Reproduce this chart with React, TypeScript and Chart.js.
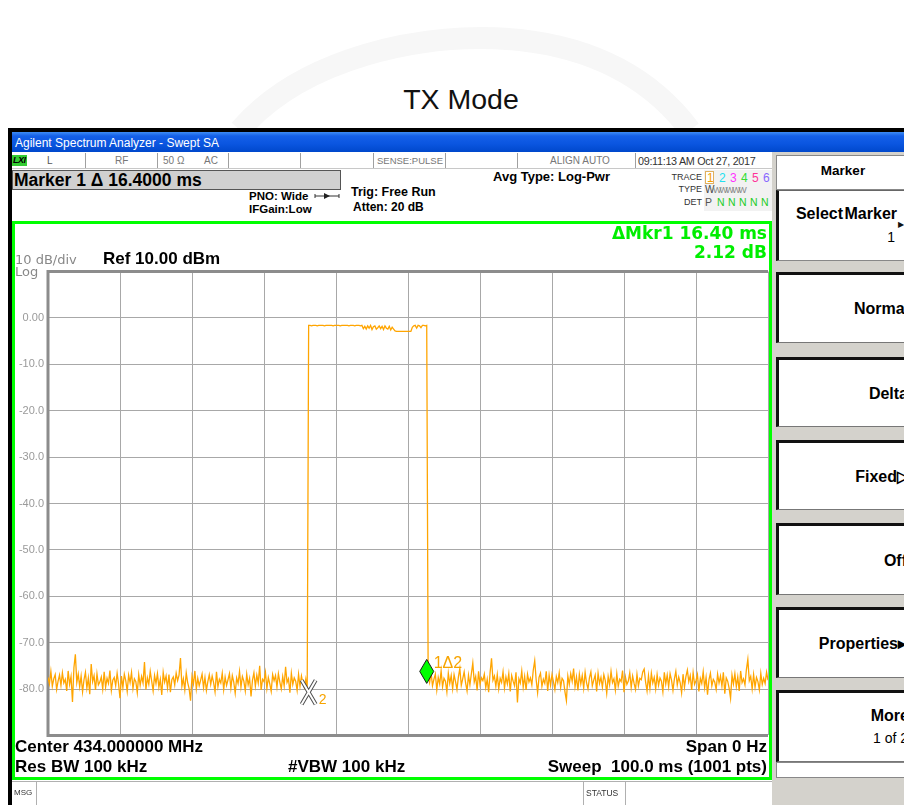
import React, { useEffect, useRef } from 'react';
import { Chart, registerables } from 'chart.js';

Chart.register(...registerables);

// ---------------- data ----------------
const sweepStartMs = 0;
const sweepStepMs = 0.2; // 501 samples over 100 ms
const timeRangeMs = [0, 100];
const timeStepMs = 10;
const levelRangeDbm = [-90, 10];
const levelStepDbm = 10;
const hiddenLevelTicks = [10, -90];

const noiseBeforeDbm = [
  -77.5, -78.9, -76.2, -79.4, -77.8, -76.9, -80.1, -78.3, -77.0, -79.2,
  -76.5, -78.7, -77.9, -80.4, -76.1, -79.0, -77.3, -82.8, -75.4, -72.5,
  -78.6, -76.8, -79.5, -77.2, -80.6, -78.0, -76.4, -79.8, -77.6, -81.1,
  -74.6, -78.4, -77.1, -80.2, -76.7, -79.1, -78.5, -77.4, -80.0, -76.3,
  -79.6, -77.7, -78.8, -76.0, -80.3, -78.1, -77.5, -79.3, -76.6, -78.9,
  -82.0, -77.2, -79.7, -76.8, -78.2, -80.5, -77.0, -78.6, -76.4, -79.9,
  -77.8, -78.4, -80.8, -76.9, -79.2, -77.3, -78.7, -74.2, -80.1, -77.6,
  -79.0, -76.2, -78.3, -80.4, -77.1, -78.8, -76.7, -79.6, -77.9, -81.3,
  -76.4, -78.5, -77.2, -79.8, -76.9, -80.7, -78.0, -77.4, -79.1, -76.6,
  -78.2, -77.0, -73.3, -79.4, -77.8, -80.2, -76.5, -78.6, -79.9, -82.5,
  -77.3, -78.9, -76.1, -80.0, -77.7, -79.3, -78.1, -76.8, -79.7, -77.5,
  -80.3, -78.4, -76.9, -79.0, -77.2, -78.6, -80.6, -76.3, -79.5, -77.9,
  -78.7, -76.6, -80.1, -77.4, -79.2, -78.0, -76.7, -79.8, -77.1, -78.5,
  -80.9, -77.6, -78.8, -76.2, -79.6, -77.3, -78.3, -80.4, -76.8, -79.1,
  -77.7, -81.6, -78.1, -76.5, -79.4, -77.0, -78.7, -75.0, -80.2, -77.9,
  -78.4, -76.4, -79.9, -77.5, -78.9, -80.5, -76.9, -78.2, -77.1, -79.6,
  -76.7, -78.5, -80.0, -77.3, -79.3, -75.2, -78.6, -77.8, -80.8, -76.6,
  -79.0, -77.6, -78.3, -80.3, -76.8, -79.4, -77.2, -78.8, -79.7, -77.9,
  -80.4,
];

const pulseDbm = [
  -1.6, -1.6, -1.7, -1.6, -1.6, -1.6, -1.7, -1.6, -1.6, -1.6,
  -1.6, -1.7, -1.6, -1.6, -1.6, -1.6, -1.6, -1.7, -1.6, -1.6,
  -1.6, -1.6, -1.7, -1.6, -1.6, -1.6, -1.6, -1.6, -1.7, -1.6,
  -1.6, -1.6, -1.7, -1.6, -1.6, -1.6, -1.7, -1.6, -2.3, -1.8,
  -2.4, -1.7, -2.2, -1.6, -2.5, -1.9, -1.7, -2.4, -2.1, -1.7,
  -2.3, -1.8, -2.5, -1.7, -2.2, -2.4, -1.8, -2.6, -2.0, -2.4,
  -2.8, -2.9, -2.9, -2.9, -2.9, -2.9, -2.9, -2.9, -2.9, -2.9,
  -2.9, -2.9, -2.0, -1.7, -1.6, -2.2, -1.6, -1.7, -2.1, -1.6,
  -1.6, -1.7, -1.6,
];

const noiseAfterDbm = [
  -77.2, -78.6, -76.4, -79.3, -77.9, -76.8, -80.2, -77.5, -78.9, -76.1,
  -79.5, -77.7, -78.3, -80.6, -76.6, -78.8, -77.1, -79.9, -76.9, -78.4,
  -80.1, -77.4, -75.6, -79.2, -77.8, -76.3, -78.7, -80.4, -77.0, -79.1,
  -76.7, -74.4, -78.5, -77.3, -80.3, -76.2, -79.0, -77.6, -78.2, -76.8,
  -79.7, -77.9, -80.7, -76.5, -73.4, -78.1, -77.2, -79.4, -76.9, -80.0,
  -77.7, -78.6, -76.3, -79.8, -77.4, -78.9, -76.7, -80.5, -77.1, -78.3,
  -79.3, -76.4, -82.9, -77.8, -78.7, -76.1, -79.6, -77.3, -80.2, -76.8,
  -78.5, -77.6, -79.1, -75.9, -73.9, -78.0, -80.8, -77.5, -76.6, -79.4,
  -77.9, -78.8, -76.2, -80.4, -77.0, -79.2, -76.9, -78.4, -80.1, -77.3,
  -78.6, -76.5, -79.7, -77.7, -78.2, -80.6, -82.5, -77.2, -79.0, -76.7,
  -78.3, -75.6, -79.5, -77.4, -80.3, -76.8, -78.9, -77.1, -79.8, -76.4,
  -78.7, -80.0, -77.6, -76.3, -79.3, -78.1, -77.0, -80.5, -76.6, -78.8,
  -77.5, -79.6, -76.9, -78.2, -80.9, -77.3, -79.1, -76.2, -78.6, -77.8,
  -80.2, -76.7, -79.4, -77.9, -78.4, -76.0, -80.7, -77.4, -79.0, -78.3,
  -76.5, -79.7, -77.2, -78.8, -80.1, -76.8, -79.3, -77.7, -78.0, -76.3,
  -75.7, -78.5, -80.4, -77.1, -79.9, -76.6, -78.7, -77.5, -80.0, -76.9,
  -79.2, -77.6, -78.3, -80.6, -76.4, -78.9, -77.0, -79.5, -76.7, -78.1,
  -80.3, -77.8, -76.2, -79.1, -77.4, -78.6, -80.8, -76.8, -79.6, -77.3,
  -75.9, -78.4, -77.1, -80.2, -76.5, -79.0, -78.2, -76.9, -80.5, -77.7,
  -78.8, -76.3, -79.7, -77.5, -81.2, -78.0, -76.6, -79.3, -77.9, -78.5,
  -80.1, -76.8, -78.7, -77.2, -79.4, -76.4, -81.0, -77.6, -78.3, -79.8,
  -82.0, -77.0, -78.9, -76.7, -79.5, -77.4, -80.4, -76.1, -78.6, -77.8,
  -79.1, -75.8, -73.6, -78.2, -77.3, -80.0, -76.9, -79.6, -77.5, -78.4,
  -80.2, -76.6, -79.0, -77.7, -78.8, -76.4, -78.1,
];

const markerTimesMs = [52.6, 36.2];
const markerLevelsDbm = [-76.2, -80.7];
const markerLabels = ['1\u03942', '2'];

// ---------------- styling helpers ----------------
const ARIAL = '"Liberation Sans", Arial, Helvetica, sans-serif';
const DEJAVU = '"DejaVu Sans", Verdana, sans-serif';
const W = 904;

type TP = {
  x: number; y: number; size: number; text: string; color?: string; bold?: boolean;
  family?: string; align?: 'left' | 'right' | 'center'; style?: React.CSSProperties;
};
const T = ({ x, y, size, text, color = '#000', bold = false, family = ARIAL, align = 'left', style = {} }: TP) => {
  const s: React.CSSProperties = {
    position: 'absolute', top: y - 0.485 * size, fontSize: size, lineHeight: 1,
    whiteSpace: 'pre', color, fontWeight: bold ? 'bold' : 'normal', fontFamily: family,
  };
  if (align === 'left') s.left = x;
  else if (align === 'right') s.right = W - x;
  else { s.left = x - 300; s.width = 600; s.textAlign = 'center'; }
  return <div style={{ ...s, ...style }}>{text}</div>;
};

const Box = ({ l, t, w, h, style }: { l: number; t: number; w: number; h: number; style?: React.CSSProperties }) => (
  <div style={{ position: 'absolute', left: l, top: t, width: w, height: h, boxSizing: 'border-box', ...style }} />
);

// ---------------- chart ----------------
const TraceChart = () => {
  const ref = useRef<HTMLCanvasElement | null>(null);
  useEffect(() => {
    if (!ref.current) return;
    const values = [...noiseBeforeDbm, ...pulseDbm, ...noiseAfterDbm];
    const points = values.map((v, i) => ({ x: Math.round((sweepStartMs + i * sweepStepMs) * 100) / 100, y: v }));

    const framePlugin = {
      id: 'plotFrame',
      beforeDatasetsDraw(chart: any) {
        const { ctx, chartArea: a } = chart;
        ctx.save();
        ctx.strokeStyle = '#8c8c8c';
        ctx.lineWidth = 3;
        ctx.beginPath();
        ctx.moveTo(a.right, a.top);
        ctx.lineTo(a.left, a.top);
        ctx.lineTo(a.left, a.bottom);
        ctx.lineTo(a.right, a.bottom);
        ctx.stroke();
        ctx.restore();
      },
    };

    const markerPlugin = {
      id: 'markers',
      afterDatasetsDraw(chart: any) {
        const { ctx } = chart;
        const xs = chart.scales.x;
        const ys = chart.scales.y;
        ctx.save();
        // marker 1 (delta) : green diamond
        const x1 = xs.getPixelForValue(markerTimesMs[0]);
        const y1 = ys.getPixelForValue(markerLevelsDbm[0]);
        ctx.beginPath();
        ctx.moveTo(x1, y1 - 12);
        ctx.lineTo(x1 + 7, y1);
        ctx.lineTo(x1, y1 + 12);
        ctx.lineTo(x1 - 7, y1);
        ctx.closePath();
        ctx.fillStyle = '#00ff00';
        ctx.fill();
        ctx.strokeStyle = '#1a1a1a';
        ctx.lineWidth = 1;
        ctx.stroke();
        ctx.fillStyle = '#f7a400';
        ctx.font = '16px ' + ARIAL;
        ctx.textBaseline = 'middle';
        ctx.textAlign = 'left';
        ctx.fillText(markerLabels[0], x1 + 7, y1 - 8);
        // marker 2 (reference) : hollow X
        const x2 = xs.getPixelForValue(markerTimesMs[1]);
        const y2 = ys.getPixelForValue(markerLevelsDbm[1]);
        const drawX = () => {
          ctx.beginPath();
          ctx.moveTo(x2 - 7, y2 - 12);
          ctx.lineTo(x2 + 7, y2 + 12);
          ctx.moveTo(x2 + 7, y2 - 12);
          ctx.lineTo(x2 - 7, y2 + 12);
          ctx.stroke();
        };
        ctx.strokeStyle = '#505050';
        ctx.lineWidth = 4;
        drawX();
        ctx.strokeStyle = '#ffffff';
        ctx.lineWidth = 2;
        drawX();
        ctx.fillStyle = '#f7a400';
        ctx.font = '14px ' + ARIAL;
        ctx.fillText(markerLabels[1], x2 + 10, y2 + 8);
        ctx.restore();
      },
    };

    const chart = new Chart(ref.current, {
      type: 'line',
      data: {
        datasets: [
          {
            data: points,
            borderColor: '#ffa500',
            borderWidth: 1.3,
            pointRadius: 0,
            tension: 0,
            fill: false,
          },
        ],
      },
      options: {
        animation: false,
        responsive: false,
        maintainAspectRatio: false,
        events: [],
        layout: { padding: { top: 5, right: 2, bottom: 3, left: 0 } },
        plugins: { legend: { display: false }, tooltip: { enabled: false } },
        scales: {
          x: {
            type: 'linear',
            min: timeRangeMs[0],
            max: timeRangeMs[1],
            ticks: { display: false, stepSize: timeStepMs },
            grid: { color: '#a8a8a8', lineWidth: 1, drawTicks: false },
            border: { display: false },
            afterFit: (s: any) => { s.height = 0; },
          },
          y: {
            type: 'linear',
            min: levelRangeDbm[0],
            max: levelRangeDbm[1],
            ticks: {
              stepSize: levelStepDbm,
              padding: 4,
              color: '#9a9a9a',
              font: { size: 11, family: ARIAL },
              callback: (v: any) => {
                const n = Number(v);
                if (hiddenLevelTicks.includes(n)) return '';
                return n === 0 ? '0.00' : n.toFixed(1);
              },
            },
            grid: { color: '#a8a8a8', lineWidth: 1, drawTicks: false },
            border: { display: false },
            afterFit: (s: any) => { s.width = 36; },
          },
        },
      } as any,
      plugins: [framePlugin, markerPlugin],
    });
    return () => chart.destroy();
  }, []);
  return (
    <canvas
      ref={ref}
      width={758}
      height={485}
      style={{ position: 'absolute', left: 12, top: 261, width: 758, height: 485 }}
    />
  );
};

// ---------------- page ----------------
const traceDigits = [
  { t: '1', c: '#f5a000', x: 707 },
  { t: '2', c: '#22e0f0', x: 719 },
  { t: '3', c: '#ff33ff', x: 730 },
  { t: '4', c: '#33dd33', x: 741 },
  { t: '5', c: '#ff3399', x: 752 },
  { t: '6', c: '#8866ff', x: 763 },
];

const statusSeps = [85, 157, 228, 300, 373, 445, 517, 635];

const panelButtons = [
  { top: 272, bottom: 343, label: 'Normal', right: 909 },
  { top: 357, bottom: 427, label: 'Delta', right: 908 },
  { top: 440, bottom: 510, label: 'Fixed\u25B7', right: 909 },
  { top: 523, bottom: 595, label: 'Off', right: 907 },
  { top: 607, bottom: 678, label: 'Properties\u25B8', right: 906 },
  { top: 690, bottom: 762, label: 'More', right: 909 },
];

export default function App() {
  return (
    <div
      style={{
        position: 'absolute', left: 0, top: 0, width: 904, height: 805, overflow: 'hidden',
        background: '#ffffff', fontFamily: ARIAL,
      }}
    >
      {/* faint watermark */}
      <svg width={904} height={130} style={{ position: 'absolute', left: 0, top: 0 }}>
        <path d="M 240 130 C 300 60, 420 30, 520 40 C 610 50, 660 90, 690 130" stroke="#f7f7f7" strokeWidth={22} fill="none" />
      </svg>

      <T x={461} y={99} size={28.5} text="TX Mode" align="center" color="#111" />

      {/* screenshot frame */}
      <Box l={8} t={128} w={896} h={4} style={{ background: '#000' }} />
      <Box l={8} t={128} w={4} h={677} style={{ background: '#000' }} />
      <Box
        l={12} t={132} w={892} h={20}
        style={{ background: 'linear-gradient(#3d8cf5 0%, #1560e8 20%, #0a55e0 60%, #0048cc 100%)' }}
      />
      <T x={15} y={142.5} size={12} text="Agilent Spectrum Analyzer - Swept SA" color="#ffffff" />

      {/* status row */}
      <Box l={12} t={152} w={760} h={17} style={{ background: '#fff', borderBottom: '1px solid #c8c8c8' }} />
      {statusSeps.map((x) => (
        <Box key={x} l={x} t={153} w={1} h={15} style={{ background: '#a0a0a0' }} />
      ))}
      <Box l={12} t={155} w={15} h={11} style={{ background: '#33cc33' }} />
      <T x={13} y={160.5} size={9} text="LXI" bold color="#000" style={{ fontStyle: 'italic', letterSpacing: -0.5 }} />
      <T x={47} y={161} size={10} text="L" color="#555" />
      <T x={115} y={161} size={10} text="RF" color="#777" />
      <T x={163} y={161} size={10} text={'50 \u03A9'} color="#777" />
      <T x={204} y={161} size={10} text="AC" color="#777" />
      <T x={377} y={161} size={9.5} text="SENSE:PULSE" color="#777" />
      <T x={550} y={161} size={10} text="ALIGN AUTO" color="#777" />
      <T x={638} y={161.5} size={10.8} text="09:11:13 AM Oct 27, 2017" color="#333" style={{ letterSpacing: -0.3 }} />

      {/* marker readout box */}
      <Box l={12} t={170} w={329} h={20} style={{ background: '#d0d0d0', border: '1px solid #555' }} />
      <T x={14} y={180.5} size={17.5} text={'Marker 1 \u0394 16.4000 ms'} bold />

      <T x={249} y={197} size={11.5} text="PNO: Wide" bold />
      <svg width={26} height={8} style={{ position: 'absolute', left: 314, top: 192 }}>
        <line x1={1} y1={4} x2={25} y2={4} stroke="#333" strokeWidth={1} />
        <line x1={1} y1={2} x2={1} y2={6} stroke="#333" strokeWidth={1} />
        <line x1={25} y1={2} x2={25} y2={6} stroke="#333" strokeWidth={1} />
        <polygon points="10,1 16,4 10,7" fill="#222" />
      </svg>
      <T x={249} y={210} size={11.5} text="IFGain:Low" bold />
      <T x={351} y={192} size={12.5} text="Trig: Free Run" bold />
      <T x={353} y={207} size={12} text="Atten: 20 dB" bold />
      <T x={493} y={176.5} size={13} text="Avg Type: Log-Pwr" bold />

      <T x={702} y={177} size={9} text="TRACE" color="#333" align="right" />
      <T x={702} y={189.5} size={9} text="TYPE" color="#333" align="right" />
      <T x={702} y={202} size={9} text="DET" color="#333" align="right" />
      <Box l={704} t={170} w={68} h={41} style={{ background: '#f2f2f2' }} />
      <Box l={705} t={171} w={9} h={13} style={{ border: '1px solid #e0b060', background: '#fff' }} />
      {traceDigits.map((d) => (
        <T key={d.t} x={d.x} y={177.5} size={12} text={d.t} color={d.c} />
      ))}
      <T x={705} y={190} size={10} text="W" color="#444" />
      <T x={713} y={190} size={9} text="WWWWW" color="#888" style={{ letterSpacing: -2.2 }} />
      <T x={705} y={202.5} size={10.5} text="P" color="#555" />
      {[717, 728, 739, 750, 761].map((x) => (
        <T key={x} x={x} y={202.5} size={10.5} text="N" color="#22cc22" />
      ))}

      {/* plot */}
      <TraceChart />

      <Box l={12} t={221} w={760} h={559} style={{ border: '3px solid #00ff00', pointerEvents: 'none' }} />

      <T x={767} y={233} size={17} text={'\u0394Mkr1 16.40 ms'} bold color="#00ee00" family={DEJAVU} align="right" />
      <T x={767} y={252} size={17} text="2.12 dB" bold color="#00ee00" family={DEJAVU} align="right" />

      <T x={15} y={259.5} size={13} text="10 dB/div" color="#888" family={DEJAVU} />
      <T x={15} y={271} size={13} text="Log" color="#888" family={DEJAVU} />
      <T x={103} y={258.5} size={17} text="Ref 10.00 dBm" bold />

      <T x={15} y={746} size={17} text="Center 434.000000 MHz" bold />
      <T x={767} y={746} size={17} text="Span 0 Hz" bold align="right" />
      <T x={15} y={766} size={17} text="Res BW 100 kHz" bold />
      <T x={288} y={766} size={17} text="#VBW 100 kHz" bold />
      <T x={767} y={766} size={17} text="Sweep  100.0 ms (1001 pts)" bold align="right" />

      {/* message bar */}
      <Box l={12} t={781} w={760} h={24} style={{ background: '#fff', borderTop: '1px solid #b0b0b0' }} />
      <Box l={36} t={782} w={1} h={23} style={{ background: '#b0b0b0' }} />
      <Box l={583} t={782} w={1} h={23} style={{ background: '#b0b0b0' }} />
      <Box l={625} t={782} w={1} h={23} style={{ background: '#b0b0b0' }} />
      <T x={14} y={793} size={8} text="MSG" color="#333" />
      <T x={586} y={793} size={8.5} text="STATUS" color="#333" />

      {/* right soft-key panel */}
      <Box l={772} t={152} w={140} h={653} style={{ background: '#d4d2cc' }} />
      <Box l={776} t={155} w={140} h={35} style={{ background: '#fff', border: '1px solid #888' }} />
      <T x={843} y={171} size={13.5} text="Marker" bold align="center" />
      <Box
        l={776} t={190} w={140} h={71}
        style={{ background: '#fff', borderLeft: '3px solid #111', borderTop: '1px solid #666', borderBottom: '1px solid #888' }}
      />
      <T x={897} y={214} size={16} text="Select Marker" bold align="right" style={{ wordSpacing: -3 }} />
      <T x={898} y={226} size={11} text={'\u25B6'} color="#111" style={{ fontSize: 8 }} />
      <T x={895} y={237} size={14} text="1" align="right" />
      {panelButtons.map((b) => (
        <Box
          key={b.label}
          l={776} t={b.top} w={140} h={b.bottom - b.top}
          style={{ background: '#fff', borderLeft: '3px solid #111', borderTop: '3px solid #111', borderBottom: '1px solid #777' }}
        />
      ))}
      {panelButtons.map((b) =>
        b.label === 'More' ? (
          <React.Fragment key={b.label}>
            <T x={b.right} y={716} size={16} text="More" bold align="right" />
            <T x={908} y={738} size={14} text="1 of 2" align="right" />
          </React.Fragment>
        ) : (
          <T key={b.label} x={b.right} y={(b.top + b.bottom) / 2 + 1.5} size={16} text={b.label} bold align="right" />
        )
      )}
      <Box l={776} t={762} w={140} h={16} style={{ background: '#fff', borderLeft: '1px solid #888', borderTop: '1px solid #888', borderBottom: '1px solid #888' }} />
    </div>
  );
}
